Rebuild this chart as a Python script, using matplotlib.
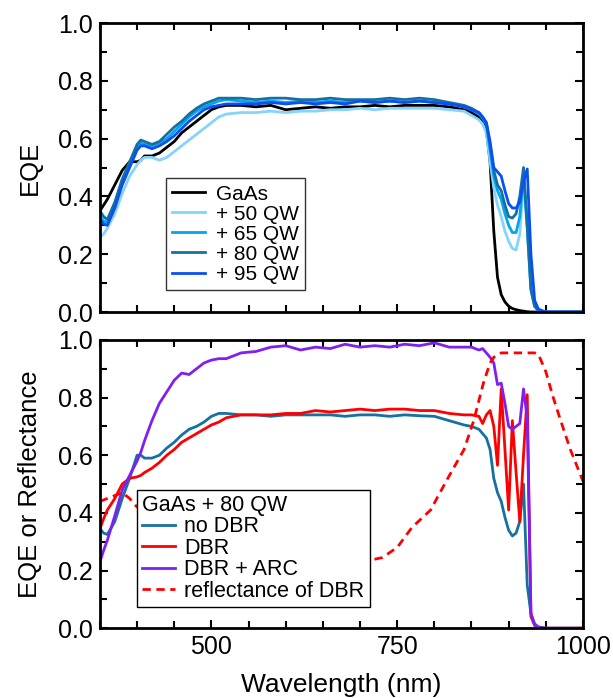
import numpy as np
import matplotlib
matplotlib.use('Agg')
import matplotlib.pyplot as plt
from matplotlib.ticker import MultipleLocator

plt.rcParams['font.family'] = ['Liberation Sans', 'DejaVu Sans']

# wavelength grid for the top panel (nm)
wl = [350, 355, 360, 370, 380, 390, 400, 405, 410, 420, 430, 440, 450, 460, 470,
      480, 490, 500, 510, 520, 540, 560, 580, 600, 620, 640, 660, 680, 700, 720,
      740, 760, 780, 800, 820, 840, 850, 860, 865, 870, 875, 880, 885, 890, 895,
      900, 905, 910, 915, 920, 925, 930, 935, 940, 950, 1000]

eqe_gaas = [0.35, 0.37, 0.39, 0.44, 0.49, 0.52, 0.52, 0.525, 0.54, 0.54, 0.55, 0.57, 0.59, 0.62, 0.64,
            0.66, 0.68, 0.70, 0.71, 0.715, 0.715, 0.71, 0.715, 0.70, 0.705, 0.71, 0.705, 0.71, 0.71, 0.715,
            0.71, 0.715, 0.715, 0.715, 0.71, 0.70, 0.69, 0.675, 0.66, 0.63, 0.52, 0.28, 0.12, 0.06, 0.035,
            0.02, 0.012, 0.008, 0.005, 0.003, 0.001, 0.0, 0.0, 0.0, 0.0, 0.0]
eqe_50 = [0.26, 0.27, 0.29, 0.34, 0.41, 0.47, 0.51, 0.525, 0.535, 0.535, 0.525, 0.535, 0.555, 0.575, 0.595,
          0.615, 0.635, 0.655, 0.675, 0.685, 0.69, 0.69, 0.695, 0.69, 0.695, 0.695, 0.70, 0.70, 0.705, 0.70,
          0.705, 0.705, 0.705, 0.705, 0.70, 0.695, 0.68, 0.665, 0.65, 0.62, 0.52, 0.43, 0.37, 0.33, 0.28,
          0.245, 0.22, 0.215, 0.27, 0.46, 0.28, 0.07, 0.02, 0.005, 0.0, 0.0]
eqe_65 = [0.33, 0.315, 0.31, 0.37, 0.45, 0.51, 0.57, 0.585, 0.58, 0.575, 0.585, 0.60, 0.625, 0.65, 0.675,
          0.695, 0.71, 0.72, 0.73, 0.735, 0.73, 0.725, 0.73, 0.725, 0.73, 0.725, 0.73, 0.725, 0.73, 0.725,
          0.73, 0.725, 0.73, 0.725, 0.72, 0.71, 0.70, 0.685, 0.67, 0.65, 0.56, 0.47, 0.42, 0.39, 0.34,
          0.30, 0.275, 0.275, 0.33, 0.48, 0.30, 0.08, 0.02, 0.005, 0.0, 0.0]
eqe_80 = [0.35, 0.33, 0.32, 0.38, 0.46, 0.52, 0.58, 0.595, 0.59, 0.58, 0.59, 0.615, 0.64, 0.66, 0.685,
          0.705, 0.72, 0.73, 0.74, 0.74, 0.74, 0.735, 0.74, 0.74, 0.735, 0.735, 0.74, 0.735, 0.735, 0.735,
          0.74, 0.735, 0.74, 0.735, 0.725, 0.715, 0.705, 0.69, 0.675, 0.655, 0.58, 0.49, 0.44, 0.42, 0.37,
          0.33, 0.325, 0.34, 0.40, 0.50, 0.30, 0.08, 0.02, 0.005, 0.0, 0.0]
eqe_95 = [0.32, 0.305, 0.30, 0.36, 0.44, 0.50, 0.56, 0.575, 0.575, 0.565, 0.575, 0.59, 0.61, 0.635, 0.66,
          0.68, 0.70, 0.71, 0.715, 0.72, 0.72, 0.72, 0.725, 0.72, 0.725, 0.72, 0.725, 0.72, 0.73, 0.725,
          0.73, 0.725, 0.73, 0.725, 0.72, 0.71, 0.70, 0.69, 0.675, 0.655, 0.59, 0.50, 0.485, 0.47, 0.42,
          0.375, 0.36, 0.36, 0.38, 0.45, 0.495, 0.20, 0.04, 0.01, 0.0, 0.0]

# bottom panel: GaAs + 80 QW
wl_b = [350, 355, 360, 370, 380, 390, 400, 405, 410, 420, 430, 440, 450, 460, 470,
        480, 490, 500, 510, 520, 540, 560, 580, 600, 620, 640, 660, 680, 700, 720,
        740, 760, 780, 800, 820, 840, 850, 860, 865, 870, 875, 880, 885, 890, 895,
        900, 905, 910, 915, 920, 925, 930, 935, 940, 950, 1000]
no_dbr = [0.345, 0.33, 0.325, 0.37, 0.45, 0.52, 0.60, 0.60, 0.59, 0.59, 0.60, 0.625, 0.645, 0.67, 0.69,
          0.70, 0.715, 0.735, 0.745, 0.745, 0.74, 0.74, 0.735, 0.74, 0.74, 0.74, 0.74, 0.735, 0.74, 0.74,
          0.735, 0.74, 0.737, 0.735, 0.72, 0.705, 0.70, 0.69, 0.675, 0.66, 0.62, 0.52, 0.47, 0.44, 0.385,
          0.34, 0.32, 0.33, 0.37, 0.50, 0.15, 0.05, 0.015, 0.005, 0.0, 0.0]
dbr = [0.345, 0.38, 0.41, 0.45, 0.50, 0.52, 0.525, 0.53, 0.54, 0.555, 0.575, 0.60, 0.62, 0.645, 0.66,
       0.675, 0.69, 0.705, 0.715, 0.73, 0.74, 0.74, 0.74, 0.745, 0.745, 0.755, 0.75, 0.755, 0.76, 0.755,
       0.76, 0.76, 0.755, 0.755, 0.745, 0.74, 0.74, 0.735, 0.71, 0.74, 0.755, 0.70, 0.565, 0.83, 0.62,
       0.41, 0.72, 0.54, 0.37, 0.60, 0.81, 0.04, 0.01, 0.0, 0.0, 0.0]
dbr_arc = [0.23, 0.27, 0.305, 0.39, 0.48, 0.53, 0.58, 0.61, 0.65, 0.72, 0.78, 0.82, 0.86, 0.885, 0.88,
           0.90, 0.92, 0.93, 0.935, 0.935, 0.955, 0.96, 0.975, 0.98, 0.965, 0.975, 0.97, 0.985, 0.975, 0.98,
           0.975, 0.985, 0.98, 0.99, 0.975, 0.975, 0.975, 0.965, 0.97, 0.955, 0.94, 0.92, 0.845, 0.85, 0.78,
           0.70, 0.69, 0.70, 0.71, 0.83, 0.73, 0.05, 0.01, 0.003, 0.0, 0.0]

wl_r = [350, 360, 370, 380, 390, 400, 450, 500, 550, 600, 650, 700, 712, 730, 750, 770,
        795, 817, 840, 853, 866, 875, 880, 890, 900, 920, 935, 940, 950, 960, 970, 983, 1000]
refl = [0.44, 0.45, 0.46, 0.47, 0.45, 0.42, 0.35, 0.30, 0.27, 0.25, 0.24, 0.235, 0.235, 0.245, 0.28, 0.35,
        0.41, 0.515, 0.62, 0.72, 0.85, 0.92, 0.94, 0.955, 0.955, 0.955, 0.955, 0.95, 0.89, 0.80, 0.72, 0.62, 0.51]

fig = plt.figure(figsize=(6.13, 6.98), dpi=100)
ax1 = fig.add_axes([0.163, 0.553, 0.788, 0.414])
ax2 = fig.add_axes([0.163, 0.100, 0.788, 0.413])

lw = 2.0
ax1.plot(wl, eqe_gaas, color='black', lw=lw, label='GaAs')
ax1.plot(wl, eqe_50, color='#86d3fb', lw=lw, label='+ 50 QW')
ax1.plot(wl, eqe_65, color='#00a6f0', lw=lw, label='+ 65 QW')
ax1.plot(wl, eqe_80, color='#1570a0', lw=lw, label='+ 80 QW')
ax1.plot(wl, eqe_95, color='#0a4ff5', lw=lw, label='+ 95 QW')

ax2.plot(wl_b, no_dbr, color='#1670a0', lw=lw, label='no DBR')
ax2.plot(wl_b, dbr, color='#ff0000', lw=lw, label='DBR')
ax2.plot(wl_b, dbr_arc, color='#8020f0', lw=lw, label='DBR + ARC')
ax2.plot(wl_r, refl, color='#ff0000', lw=lw, ls=(0, (3, 2)), label='reflectance of DBR')

for ax in (ax1, ax2):
    ax.set_xlim(350, 1000)
    ax.set_ylim(0, 1.0)
    ax.xaxis.set_major_locator(MultipleLocator(250))
    ax.xaxis.set_minor_locator(MultipleLocator(50))
    ax.yaxis.set_major_locator(MultipleLocator(0.2))
    ax.yaxis.set_minor_locator(MultipleLocator(0.1))
    ax.tick_params(which='both', direction='in', top=True, right=True, width=1.5, labelsize=18, pad=5)
    ax.tick_params(which='major', length=6)
    ax.tick_params(which='minor', length=5)
    for s in ax.spines.values():
        s.set_linewidth(2)
    ax.yaxis.set_major_formatter(plt.FormatStrFormatter('%.1f'))

ax1.tick_params(labelbottom=False)
ax1.set_ylabel('EQE', fontsize=18.5)
ax2.set_ylabel('EQE or Reflectance', fontsize=18.5)
ax2.set_xlabel('Wavelength (nm)', fontsize=19, labelpad=10)
ax1.yaxis.set_label_coords(-0.12, 0.5)
ax2.yaxis.set_label_coords(-0.12, 0.5)

leg1 = ax1.legend(loc='lower left', bbox_to_anchor=(0.136, 0.076), borderaxespad=0,
                  fontsize=15, frameon=True, fancybox=False, edgecolor='black',
                  handlelength=1.6, handletextpad=0.5, labelspacing=0.05, borderpad=0.3)
leg1.get_frame().set_linewidth(1.0)

leg2 = ax2.legend(loc='lower left', bbox_to_anchor=(0.077, 0.073), borderaxespad=0,
                  title='GaAs + 80 QW', alignment='left', title_fontsize=15.5,
                  fontsize=15.5, frameon=True, fancybox=False, edgecolor='black',
                  handlelength=1.5, handletextpad=0.45, labelspacing=0.02, borderpad=0.25,
                  framealpha=1)
leg2.get_frame().set_linewidth(1.0)
leg2.set_zorder(5)

fig.savefig('out.png', dpi=100)
